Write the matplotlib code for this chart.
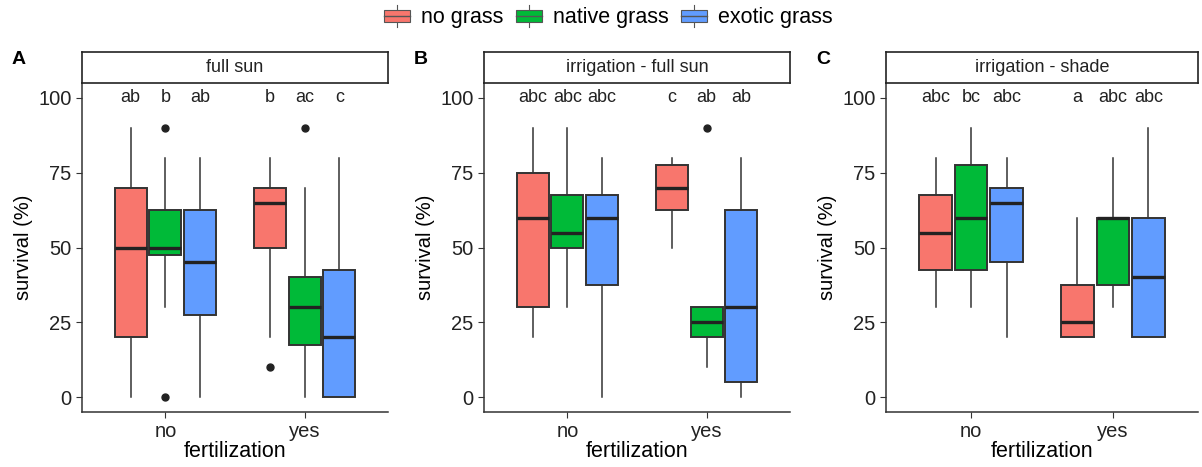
import matplotlib.pyplot as plt
from matplotlib.patches import Patch, Rectangle
from matplotlib.lines import Line2D
from matplotlib.legend_handler import HandlerBase

plt.rcParams['font.family'] = ['Liberation Sans', 'DejaVu Sans']

panels = ["full sun", "irrigation - full sun", "irrigation - shade"]
panel_tags = ["A", "B", "C"]
fert = ["no", "yes"]
grasses = ["no grass", "native grass", "exotic grass"]
colors = ["#F8766D", "#00BA38", "#619CFF"]

# box stats per panel -> fertilization -> grass: (whislo, q1, med, q3, whishi)
stats = [
    [[(0, 20, 50, 70, 90), (30, 47.5, 50, 62.5, 80), (0, 27.5, 45, 62.5, 80)],
     [(20, 50, 65, 70, 80), (0, 17.5, 30, 40, 70), (0, 0, 20, 42.5, 80)]],
    [[(20, 30, 60, 75, 90), (30, 50, 55, 67.5, 90), (0, 37.5, 60, 67.5, 80)],
     [(50, 62.5, 70, 77.5, 80), (10, 20, 25, 30, 30), (0, 5, 30, 62.5, 80)]],
    [[(30, 42.5, 55, 67.5, 80), (30, 42.5, 60, 77.5, 90), (20, 45, 65, 70, 80)],
     [(20, 20, 25, 37.5, 60), (30, 37.5, 60, 60, 80), (20, 20, 40, 60, 90)]],
]
outliers = [
    [[[], [90, 0], []], [[10], [90], []]],
    [[[], [], []], [[], [90], []]],
    [[[], [], []], [[], [], []]],
]
letters = [
    [["ab", "b", "ab"], ["b", "ac", "c"]],
    [["abc", "abc", "abc"], ["c", "ab", "ab"]],
    [["abc", "bc", "abc"], ["a", "abc", "abc"]],
]


class BoxKey(HandlerBase):
    # small boxplot glyph like ggplot's legend key
    def create_artists(self, legend, orig, xd, yd, width, height, fontsize, trans):
        fc = orig.get_facecolor()
        cx = xd + width / 2
        rect = Rectangle((xd, yd + height * 0.1), width, height * 0.8,
                         facecolor=fc, edgecolor="#555555", linewidth=0.8, transform=trans)
        vline = Line2D([cx, cx], [yd - height * 0.2, yd + height * 1.2],
                       color="#555555", linewidth=0.8, transform=trans)
        mline = Line2D([xd, xd + width], [yd + height / 2] * 2,
                       color="#555555", linewidth=1.0, transform=trans)
        return [vline, rect, mline]


fig = plt.figure(figsize=(12.02, 4.67), dpi=100)
lefts = [82, 484, 886]
widths = [306, 306, 312]
W, H = 1202, 467
offsets = [-0.25, 0, 0.25]

for p in range(3):
    l = lefts[p] / W
    w = widths[p] / W
    ax = fig.add_axes([l, 1 - 412 / H, w, (412 - 83) / H])
    for fi in range(2):
        for gi in range(3):
            lo, q1, med, q3, hi = stats[p][fi][gi]
            bs = [dict(whislo=lo, q1=q1, med=med, q3=q3, whishi=hi,
                       fliers=outliers[p][fi][gi])]
            pos = fi + 1 + offsets[gi]
            ax.bxp(bs, positions=[pos], widths=0.23, patch_artist=True,
                   showcaps=False,
                   boxprops=dict(facecolor=colors[gi], edgecolor="#333333", linewidth=1.4),
                   medianprops=dict(color="#222222", linewidth=2.4),
                   whiskerprops=dict(color="#333333", linewidth=1.1),
                   flierprops=dict(marker="o", markerfacecolor="#222222",
                                   markeredgecolor="#222222", markersize=5))
            ax.text(pos, 100, letters[p][fi][gi], ha="center", va="center",
                    fontsize=13, color="#222222")
    ax.set_xlim(0.4, 2.6)
    ax.set_ylim(-5, 105)
    ax.set_xticks([1, 2])
    ax.set_xticklabels(fert)
    ax.set_yticks([0, 25, 50, 75, 100])
    ax.tick_params(labelsize=14.5, length=4, colors="#333333", labelcolor="#222222")
    ax.spines["top"].set_visible(False)
    ax.spines["right"].set_visible(False)
    ax.spines["left"].set_color("#333333")
    ax.spines["bottom"].set_color("#333333")
    ax.spines["left"].set_linewidth(1.1)
    ax.spines["bottom"].set_linewidth(1.1)
    ax.set_xlabel("fertilization", fontsize=15.5, labelpad=0)
    ax.set_ylabel("survival (%)", fontsize=14.5, labelpad=4)

    strip = fig.add_axes([l, 1 - 83 / H, w, 31 / H])
    strip.set_xticks([])
    strip.set_yticks([])
    for s in strip.spines.values():
        s.set_linewidth(1.2)
        s.set_color("#222222")
    strip.text(0.5, 0.5, panels[p], ha="center", va="center", fontsize=13,
               color="#222222", transform=strip.transAxes)

    fig.text((lefts[p] - 70) / W, 1 - 59 / H, panel_tags[p], fontsize=14,
             fontweight="bold", ha="left", va="center")

handles = [Patch(facecolor=c) for c in colors]
fig.legend(handles, grasses, handler_map={Patch: BoxKey()}, loc="center",
           bbox_to_anchor=(0.506, 1 - 18 / H), ncol=3, frameon=False, fontsize=15.5,
           handlelength=1.2, handleheight=0.7, handletextpad=0.5, columnspacing=0.6)

fig.savefig("out.png", dpi=100)
